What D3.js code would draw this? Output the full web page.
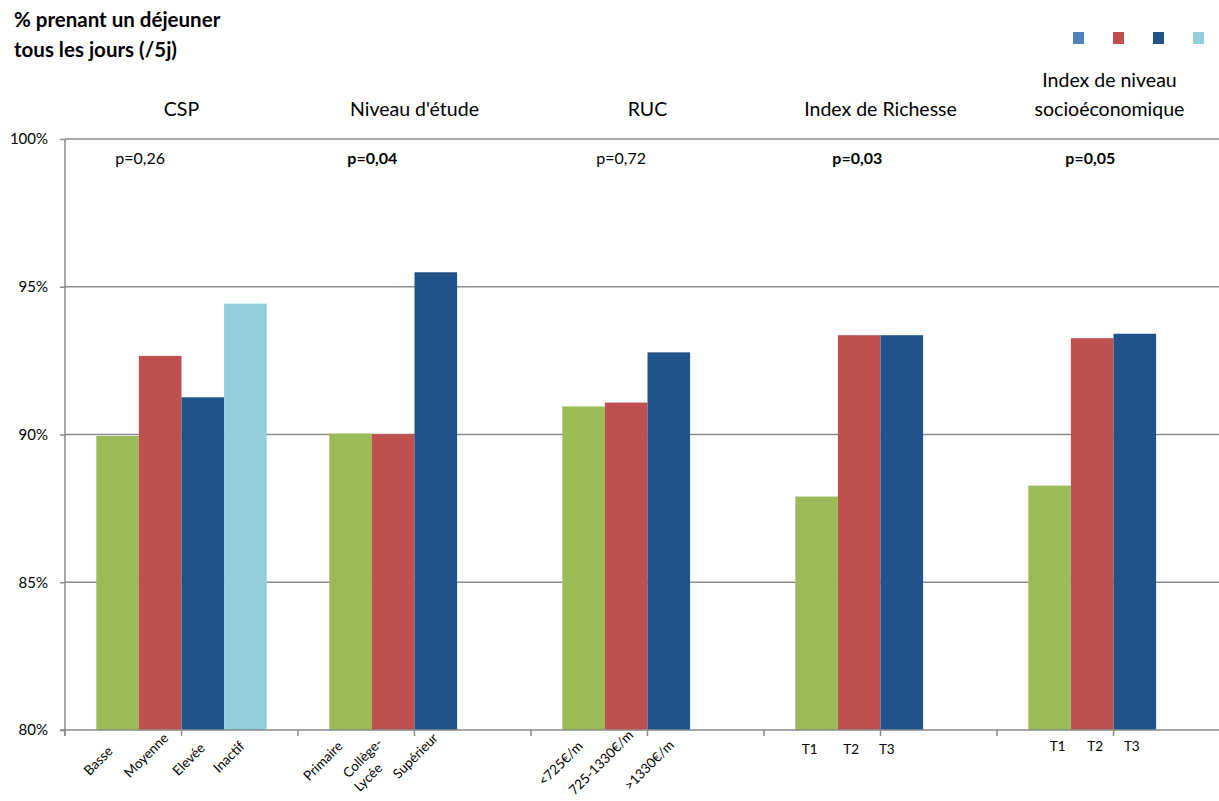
<!DOCTYPE html>
<html>
<head>
<meta charset="utf-8">
<script src="https://cdn.jsdelivr.net/npm/d3@7"></script>
<style>
  html, body { margin: 0; padding: 0; background: #fff; }
  svg { display: block; font-family: Lato, "Open Sans", sans-serif; }
</style>
</head>
<body>
<svg id="chart" width="1219" height="801"></svg>
<script>
// Groups of categories shown side by side
const groups = ["CSP", "Niveau d'étude", "RUC", "Index de Richesse", "Index de niveau socioéconomique"];
const groupTitleLines = [["CSP"], ["Niveau d'étude"], ["RUC"], ["Index de Richesse"], ["Index de niveau", "socioéconomique"]];
const pValues = ["p=0,26", "p=0,04", "p=0,72", "p=0,03", "p=0,05"];
const pSignificant = [false, true, false, true, true];

// Category labels inside each group ("\n" splits a label over two lines)
const cspLabels = ["Basse", "Moyenne", "Elevée", "Inactif"];
const etudeLabels = ["Primaire", "Collège-\nLycée", "Supérieur"];
const rucLabels = ["<725€/m", "725-1330€/m", ">1330€/m"];
const richesseLabels = ["T1", "T2", "T3"];
const socioLabels = ["T1", "T2", "T3"];

// % prenant un déjeuner tous les jours, per category
const cspValues = [89.95, 92.66, 91.26, 94.43];
const etudeValues = [90.03, 90.01, 95.49];
const rucValues = [90.95, 91.08, 92.78];
const richesseValues = [87.90, 93.36, 93.36];
const socioValues = [88.27, 93.26, 93.41];

const yTickValues = [80, 85, 90, 95, 100];

const labelSets = [cspLabels, etudeLabels, rucLabels, richesseLabels, socioLabels];
const valueSets = [cspValues, etudeValues, rucValues, richesseValues, socioValues];

const slotColors = ["#9BBB59", "#C0504D", "#22528A", "#93CDDD"];
const legendColors = ["#4F81BD", "#C0504D", "#22528A", "#93CDDD"];
const axisColor = "#8A8A8A";

// Hand placement of the category labels (offset from the bar centre)
const rotatedNudge = [
  [[-4, 6], [9, -7], [3, 3], [0, 1]],
  [[-7, 1], [-10, -2], [3, -7]],
  [[0, 1], [8, -10], [6, 0]]
];
const flatNudge = [[-7, -8, -15], [8, 3, -3]];
const flatBaseline = [754, 751];

const svg = d3.select("#chart");

// Scales
const y = d3.scaleLinear().domain([80, 100]).range([730, 139]);
const x = d3.scaleBand().domain(groups).range([65, 1230]).padding(0);
const slot = d3.scaleBand().domain([0, 1, 2, 3]).range([0, x.bandwidth()]).paddingInner(0).paddingOuter(0.735);

// Title
const title = svg.append("text")
  .attr("x", 14).attr("y", 27)
  .attr("font-weight", "bold").attr("font-size", 20.5).attr("fill", "#000");
title.append("tspan").attr("x", 14).attr("y", 27).text("% prenant un déjeuner");
title.append("tspan").attr("x", 14).attr("y", 57).text("tous les jours (/5j)");

// Legend swatches
svg.append("g").selectAll("rect")
  .data(legendColors)
  .join("rect")
  .attr("x", (d, i) => 1073 + i * 40)
  .attr("y", 32)
  .attr("width", 11).attr("height", 12)
  .attr("fill", d => d);

// Y axis labels and left tick marks
const yAxis = d3.axisLeft(y)
  .tickValues(yTickValues)
  .tickFormat(d => d + "%")
  .tickSize(5)
  .tickPadding(12);
const yg = svg.append("g").attr("transform", "translate(65,0)").call(yAxis);
yg.select(".domain").remove();
yg.selectAll(".tick line").attr("stroke", axisColor).attr("stroke-width", 1.5);
yg.selectAll(".tick text").attr("font-size", 15).attr("fill", "#000")
  .attr("font-family", "Lato, 'Open Sans', sans-serif");

// Horizontal gridlines
svg.append("g").selectAll("line")
  .data(yTickValues.filter(v => v > 80))
  .join("line")
  .attr("x1", 65).attr("x2", 1219)
  .attr("y1", d => y(d)).attr("y2", d => y(d))
  .attr("stroke", axisColor).attr("stroke-width", 1.5);

// Bars
const barsG = svg.append("g");
groups.forEach((g, gi) => {
  barsG.append("g").selectAll("rect")
    .data(valueSets[gi])
    .join("rect")
    .attr("x", (d, i) => x(g) + slot(i))
    .attr("y", d => y(d))
    .attr("width", slot.bandwidth())
    .attr("height", d => y(80) - y(d))
    .attr("fill", (d, i) => slotColors[i]);
});

// Vertical axis line and baseline
svg.append("line")
  .attr("x1", 65).attr("x2", 65).attr("y1", y(100)).attr("y2", y(80) + 6)
  .attr("stroke", axisColor).attr("stroke-width", 1.5);
svg.append("line")
  .attr("x1", 60).attr("x2", 1219).attr("y1", y(80)).attr("y2", y(80))
  .attr("stroke", axisColor).attr("stroke-width", 1.5);

// Tick marks at every half group along the baseline
const halfTicks = d3.range(0, groups.length * 2).map(k => x.range()[0] + k * x.bandwidth() / 2);
svg.append("g").selectAll("line")
  .data(halfTicks)
  .join("line")
  .attr("x1", d => d).attr("x2", d => d)
  .attr("y1", y(80)).attr("y2", y(80) + 6)
  .attr("stroke", axisColor).attr("stroke-width", 1.5);

// Group titles
groups.forEach((g, gi) => {
  const lines = groupTitleLines[gi];
  const cx = x(g) + x.bandwidth() / 2 - (gi === 4 ? 4 : 0);
  const t = svg.append("text")
    .attr("text-anchor", "middle")
    .attr("font-size", 19.5).attr("fill", "#000");
  lines.forEach((ln, li) => {
    t.append("tspan")
      .attr("x", cx)
      .attr("y", 116 - (lines.length - 1 - li) * 29)
      .text(ln);
  });
});

// p-values
const pShift = [19, 18, 34, 37, 37];
groups.forEach((g, gi) => {
  svg.append("text")
    .attr("x", x(g) + slot(0) + pShift[gi])
    .attr("y", 164)
    .attr("font-size", 16)
    .attr("font-weight", pSignificant[gi] ? "bold" : "normal")
    .attr("fill", "#000")
    .text(pValues[gi]);
});

// Category labels: rotated for the first three groups, horizontal for the tertiles
groups.forEach((g, gi) => {
  labelSets[gi].forEach((lab, i) => {
    const cx = x(g) + slot(i) + slot.bandwidth() / 2;
    if (gi < 3) {
      const [ndx, ndy] = rotatedNudge[gi][i];
      lab.split("\n").forEach((p, pi) => {
        const px = cx + ndx;
        const py = 746 + ndy + pi * 25;
        svg.append("text")
          .attr("transform", `translate(${px},${py}) rotate(-45)`)
          .attr("text-anchor", "end")
          .attr("font-size", 13.5)
          .attr("fill", "#000")
          .text(p);
      });
    } else {
      svg.append("text")
        .attr("x", cx + flatNudge[gi - 3][i])
        .attr("y", flatBaseline[gi - 3])
        .attr("text-anchor", "middle")
        .attr("font-size", 13.5)
        .attr("fill", "#000")
        .text(lab);
    }
  });
});
</script>
</body>
</html>
